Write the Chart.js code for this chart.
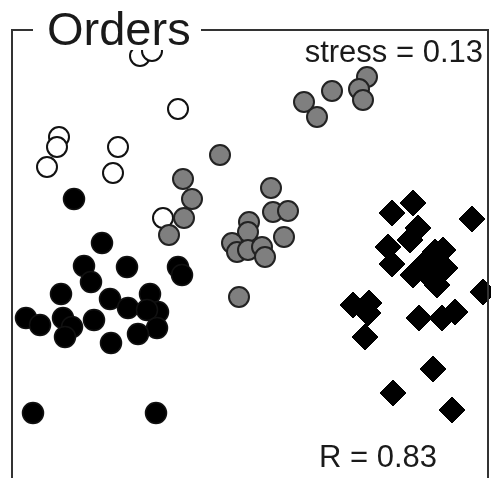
<!DOCTYPE html>
<html>
<head>
<meta charset="utf-8">
<script src="https://cdn.jsdelivr.net/npm/chart.js@4.4.1/dist/chart.umd.min.js"></script>
<style>
html,body{margin:0;padding:0;background:#fff;}
#wrap{width:491px;height:478px;position:relative;}
</style>
</head>
<body>
<div id="wrap"><canvas id="c"></canvas></div>
<script>
// NMDS coordinates [NMDS1, NMDS2] per group
const openCircles = [
  [-0.55,0.92],[-0.49,0.945],[-0.36,0.655],[-0.955,0.515],[-0.965,0.465],
  [-1.015,0.365],[-0.66,0.465],[-0.685,0.335],[-0.435,0.11]
];
const grayCircles = [
  [-0.15,0.425],[-0.335,0.305],[-0.29,0.205],[-0.33,0.11],[-0.405,0.025],
  [0.105,0.26],[0.115,0.14],[0.19,0.145],[0.17,0.015],[-0.005,0.09],
  [-0.01,0.04],[-0.09,-0.015],[-0.065,-0.06],[-0.01,-0.05],[0.06,-0.035],
  [0.075,-0.085],[-0.055,-0.285],
  [0.585,0.815],[0.545,0.755],[0.565,0.7],[0.41,0.745],[0.27,0.69],[0.335,0.615]
];
const blackCircles = [
  [-0.88,0.205],[-0.74,-0.015],[-0.83,-0.13],[-0.795,-0.21],[-0.615,-0.135],
  [-0.36,-0.135],[-0.34,-0.175],[-0.945,-0.27],[-0.7,-0.295],[-0.5,-0.27],
  [-0.61,-0.34],[-0.46,-0.36],[-0.515,-0.35],[-1.12,-0.39],[-1.05,-0.425],
  [-0.935,-0.39],[-0.89,-0.435],[-0.925,-0.485],[-0.78,-0.4],[-0.465,-0.44],
  [-0.56,-0.47],[-0.695,-0.515],[-1.085,-0.865],[-0.47,-0.865]
];
const blackDiamonds = [
  [0.71,0.135],[0.815,0.185],[1.11,0.105],[0.84,0.06],[0.8,0],
  [0.69,-0.035],[0.71,-0.12],[0.965,-0.05],[0.925,-0.06],[0.815,-0.175],
  [0.975,-0.14],[0.9,-0.185],[0.935,-0.225],[0.88,-0.11],[1.165,-0.26],
  [0.515,-0.325],[0.595,-0.315],[0.59,-0.365],[0.575,-0.485],
  [0.845,-0.39],[0.96,-0.39],[1.025,-0.36],
  [0.915,-0.645],[0.715,-0.765],[1.01,-0.85]
];
const titleText = "Orders";
const stressText = "stress = 0.13";
const rText = "R = 0.83";

const toPts = a => a.map(p => ({x:p[0], y:p[1]}));

const decor = {
  id:'decor',
  afterDatasetsDraw(chart){
    const ctx = chart.ctx;
    ctx.save();
    // title background
    ctx.fillStyle = '#fff';
    ctx.fillRect(36, 0, 162, 50);
    // frame
    ctx.strokeStyle = '#333';
    ctx.lineWidth = 2;
    ctx.beginPath();
    ctx.moveTo(12, 478);
    ctx.lineTo(12, 30);
    ctx.lineTo(33, 30);
    ctx.moveTo(201, 30);
    ctx.lineTo(488, 30);
    ctx.lineTo(488, 478);
    ctx.stroke();
    // texts
    ctx.fillStyle = '#1a1a1a';
    ctx.textBaseline = 'alphabetic';
    ctx.font = '47px "Liberation Sans", Arial, sans-serif';
    ctx.textAlign = 'left';
    ctx.fillText(titleText, 47, 45);
    ctx.font = '31px "Liberation Sans", Arial, sans-serif';
    ctx.textAlign = 'right';
    ctx.fillText(stressText, 483, 62);
    ctx.textAlign = 'left';
    ctx.fillText(rText, 319, 467);
    ctx.restore();
  }
};

new Chart(document.getElementById('c'), {
  type:'scatter',
  data:{
    datasets:[
      {label:'diamonds', data:toPts(blackDiamonds), pointStyle:'rectRot', pointRadius:13,
       backgroundColor:'#000', borderColor:'#000', borderWidth:1, order:1},
      {label:'black', data:toPts(blackCircles), pointStyle:'circle', pointRadius:10.5,
       backgroundColor:'#000', borderColor:'#111', borderWidth:1.5, order:2},
      {label:'gray', data:toPts(grayCircles), pointStyle:'circle', pointRadius:10,
       backgroundColor:'#7f7f7f', borderColor:'#222', borderWidth:2, order:3},
      {label:'open', data:toPts(openCircles), pointStyle:'circle', pointRadius:10,
       backgroundColor:'#fff', borderColor:'#111', borderWidth:2, order:4}
    ]
  },
  options:{
    responsive:true,
    maintainAspectRatio:false,
    animation:false,
    layout:{padding:0, autoPadding:false},
    plugins:{legend:{display:false}, tooltip:{enabled:false}, title:{display:false}},
    scales:{
      x:{type:'linear', min:-1.25, max:1.205, display:false},
      y:{type:'linear', min:-1.19, max:1.2, display:false}
    }
  },
  plugins:[decor]
});
</script>
</body>
</html>
